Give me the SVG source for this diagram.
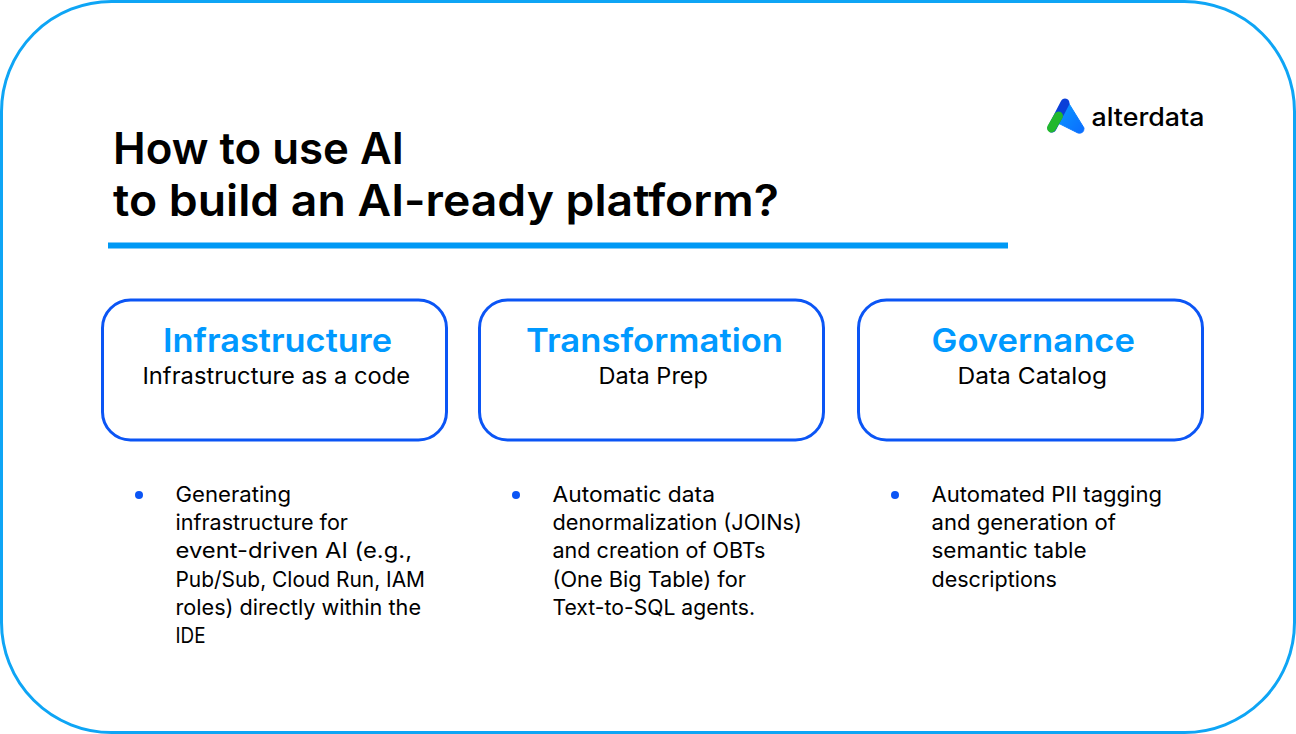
<svg xmlns="http://www.w3.org/2000/svg" width="1296" height="734" viewBox="0 0 1296 734">
<defs>
<linearGradient id="lg" x1="0" y1="0" x2="1" y2="1"><stop offset="0" stop-color="#0a9cff"/><stop offset="1" stop-color="#0a6cff"/></linearGradient>
</defs>
<style>
text{font-family:"Inter","Noto Sans","Liberation Sans",sans-serif;fill:#000}
.card{fill:#fff;stroke:#0b55f5;stroke-width:3}
.h{font-size:33px;font-weight:600;fill:#0099ff}
.s{font-size:22.5px}
.b{font-size:21.5px}
.t{font-size:44px;font-weight:600}
.dot{fill:#0b55f5}
</style>
<rect x="1.5" y="1.5" width="1293" height="731" rx="110" fill="#fff" stroke="#0ea5f5" stroke-width="3"/>
<g id="title"><text class="t" x="113" y="164" textLength="291" lengthAdjust="spacingAndGlyphs">How to use AI</text><text class="t" x="113" y="216" textLength="666" lengthAdjust="spacingAndGlyphs">to build an AI-ready platform?</text><rect x="108" y="242.500" width="900" height="6" fill="#0099f5"/></g>
<g id="logo">
<path d="M1068 102 Q1065 98 1062 102 L1057 120 Q1056 124 1060 124 L1078 133 Q1084 134 1084 128 Z" fill="url(#lg)" stroke="url(#lg)" stroke-width="1" stroke-linejoin="round"/>
<path d="M1065 103 L1052 128" stroke="#0a3fd8" stroke-width="9" stroke-linecap="round" fill="none"/>
<path d="M1058.500 116 L1051.500 128" stroke="#22b82e" stroke-width="9" stroke-linecap="round" fill="none"/>
<text x="1091.500" y="126" font-size="25" font-weight="500" textLength="113" lengthAdjust="spacingAndGlyphs">alterdata</text></g>
<g id="infrastructure"><rect class="card" x="102.500" y="300" width="344" height="140" rx="28"/><text class="h" x="163" y="352" textLength="229" lengthAdjust="spacingAndGlyphs">Infrastructure</text><text class="s" x="142.500" y="383.500" textLength="267.500" lengthAdjust="spacingAndGlyphs">Infrastructure as a code</text><circle class="dot" cx="139" cy="495" r="4"/><text class="b" x="175.500" y="502" textLength="115.500" lengthAdjust="spacingAndGlyphs">Generating</text><text class="b" x="175.500" y="530" textLength="172.500" lengthAdjust="spacingAndGlyphs">infrastructure for</text><text class="b" x="175.500" y="558" textLength="236.500" lengthAdjust="spacingAndGlyphs">event-driven AI (e.g.,</text><text class="b" x="175.500" y="587" textLength="249.500" lengthAdjust="spacingAndGlyphs">Pub/Sub, Cloud Run, IAM</text><text class="b" x="175.500" y="615" textLength="245.500" lengthAdjust="spacingAndGlyphs">roles) directly within the</text><text class="b" x="175.500" y="643" textLength="30" lengthAdjust="spacingAndGlyphs">IDE</text></g>
<g id="transformation"><rect class="card" x="479.500" y="300" width="344" height="140" rx="28"/><text class="h" x="526" y="352" textLength="257" lengthAdjust="spacingAndGlyphs">Transformation</text><text class="s" x="598.500" y="383.500" textLength="109.500" lengthAdjust="spacingAndGlyphs">Data Prep</text><circle class="dot" cx="516" cy="495" r="4"/><text class="b" x="552.500" y="502" textLength="162.500" lengthAdjust="spacingAndGlyphs">Automatic data</text><text class="b" x="552.500" y="530" textLength="249.500" lengthAdjust="spacingAndGlyphs">denormalization (JOINs)</text><text class="b" x="552.500" y="558" textLength="213" lengthAdjust="spacingAndGlyphs">and creation of OBTs</text><text class="b" x="552.500" y="587" textLength="193.500" lengthAdjust="spacingAndGlyphs">(One Big Table) for</text><text class="b" x="552.500" y="615" textLength="202.500" lengthAdjust="spacingAndGlyphs">Text-to-SQL agents.</text></g>
<g id="governance"><rect class="card" x="858.500" y="300" width="344" height="140" rx="28"/><text class="h" x="931.500" y="352" textLength="203.500" lengthAdjust="spacingAndGlyphs">Governance</text><text class="s" x="957.500" y="383.500" textLength="149.500" lengthAdjust="spacingAndGlyphs">Data Catalog</text><circle class="dot" cx="895" cy="495" r="4"/><text class="b" x="931.500" y="502" textLength="230.500" lengthAdjust="spacingAndGlyphs">Automated PII tagging</text><text class="b" x="931.500" y="530" textLength="184.500" lengthAdjust="spacingAndGlyphs">and generation of</text><text class="b" x="931.500" y="558" textLength="155" lengthAdjust="spacingAndGlyphs">semantic table</text><text class="b" x="931.500" y="587" textLength="125.500" lengthAdjust="spacingAndGlyphs">descriptions</text></g>
<g id="connectors"/>
</svg>
